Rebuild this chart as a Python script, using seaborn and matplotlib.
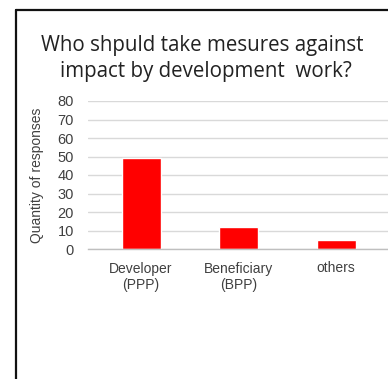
import matplotlib
matplotlib.use("Agg")
import matplotlib.pyplot as plt
from matplotlib.lines import Line2D
import seaborn as sns
import pandas as pd

categories = ["Developer\n(PPP)", "Beneficiary\n(BPP)", "others"]
responses = [49, 12, 5]
y_ticks = [0, 10, 20, 30, 40, 50, 60, 70, 80]

title_lines = ["Who shpuld take mesures against", "impact by development  work?"]
y_label = "Quantity of responses"

sns.set_style("white")
plt.rcParams["font.family"] = ["Liberation Sans", "DejaVu Sans"]

W, H = 388, 379
fig = plt.figure(figsize=(W / 100, H / 100), dpi=100)
fig.patch.set_facecolor("white")

def fx(px):
    return px / W

def fy(py):
    return 1 - py / H

ax = fig.add_axes([fx(88), fy(249), fx(388) - fx(88), fy(101) - fy(249)])

df = pd.DataFrame({"category": categories, "responses": responses})
sns.barplot(data=df, x="category", y="responses", color="#ff0000",
            saturation=1, width=0.4, ax=ax)

ax.set_ylim(0, 80)
ax.set_yticks(y_ticks)
ax.set_xlim(-0.5436, 2.533)
ax.yaxis.grid(True, color="#d9d9d9", linewidth=1.0)
ax.set_axisbelow(True)
for s in ["top", "right", "left"]:
    ax.spines[s].set_visible(False)
ax.spines["bottom"].set_color("#bfbfbf")
ax.spines["bottom"].set_linewidth(1.0)
ax.tick_params(axis="y", length=0, pad=10, labelsize=10.5, labelcolor="#404040")
ax.tick_params(axis="x", length=0, pad=9, labelsize=10, labelcolor="#404040")
ax.set_xlabel("")
ax.set_ylabel(y_label, fontsize=10, color="#404040")
ax_w = fx(388) - fx(88)
ax.yaxis.set_label_coords((fx(44) - fx(88)) / ax_w, 0.5)

title_font = ["Open Sans", "DejaVu Sans"]
fig.text(fx(202), fy(45), title_lines[0], ha="center", va="center",
         fontsize=14.8, color="#222222", family=title_font)
fig.text(fx(206), fy(71), title_lines[1], ha="center", va="center",
         fontsize=14.8, color="#222222", family=title_font)

# frame lines along the top and left edges
fig.add_artist(Line2D([fx(16), fx(16)], [fy(10), 0], color="#111111", linewidth=1.6))
fig.add_artist(Line2D([fx(16), 1], [fy(10), fy(10)], color="#111111", linewidth=1.6))

fig.savefig("out.png", dpi=100)
